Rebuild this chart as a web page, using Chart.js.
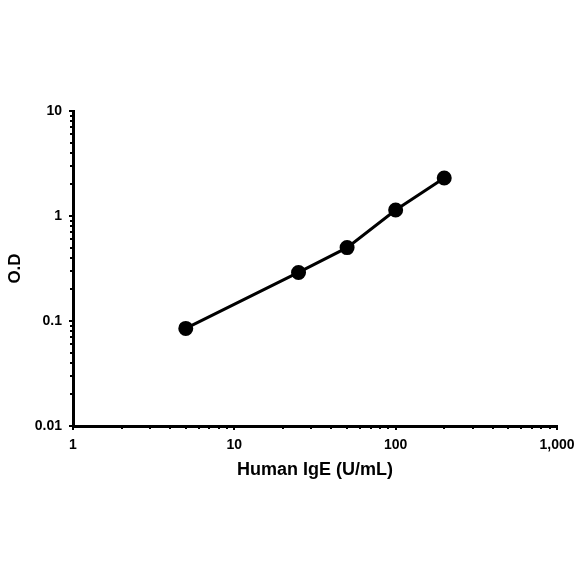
<!DOCTYPE html>
<html>
<head>
<meta charset="utf-8">
<script src="https://cdn.jsdelivr.net/npm/chart.js@4"></script>
<style>
  html, body { margin: 0; padding: 0; background: #fff; }
  #wrap { width: 584px; height: 584px; }
</style>
</head>
<body>
<div id="wrap"><canvas id="myChart" width="584" height="584"></canvas></div>
<script>
// data
var concentrations = [5, 25, 50, 100, 200];
var odValues = [0.085, 0.29, 0.5, 1.14, 2.3];
var xTicks = [1, 10, 100, 1000];
var yTicks = [0.01, 0.1, 1, 10];
var xTitle = 'Human IgE (U/mL)';
var yTitle = 'O.D';

var points = concentrations.map(function (c, i) { return { x: c, y: odValues[i] }; });

function minorValues(min, max) {
  var out = [];
  for (var d = min; d < max; d *= 10) {
    for (var k = 2; k <= 9; k++) out.push(d * k);
  }
  return out;
}

// small tick marks outside the axis lines
var tickMarks = {
  id: 'tickMarks',
  afterDraw: function (chart) {
    var c = chart.ctx, xs = chart.scales.x, ys = chart.scales.y;
    var a = chart.chartArea;
    c.save();
    c.strokeStyle = '#000';
    c.lineWidth = 2;
    xTicks.forEach(function (v) {
      var px = Math.round(xs.getPixelForValue(v));
      c.beginPath(); c.moveTo(px, a.bottom); c.lineTo(px, a.bottom + 4); c.stroke();
    });
    minorValues(1, 1000).forEach(function (v) {
      var px = Math.round(xs.getPixelForValue(v));
      c.beginPath(); c.moveTo(px, a.bottom); c.lineTo(px, a.bottom + 3); c.stroke();
    });
    yTicks.forEach(function (v) {
      var py = Math.round(ys.getPixelForValue(v));
      c.beginPath(); c.moveTo(a.left, py); c.lineTo(a.left - 4, py); c.stroke();
    });
    minorValues(0.01, 10).forEach(function (v) {
      var py = Math.round(ys.getPixelForValue(v));
      c.beginPath(); c.moveTo(a.left, py); c.lineTo(a.left - 3, py); c.stroke();
    });
    c.restore();
  }
};

var ctx = document.getElementById('myChart').getContext('2d');
var chart = new Chart(ctx, {
  type: 'scatter',
  data: {
    datasets: [{
      data: points,
      showLine: true,
      borderColor: '#000',
      backgroundColor: '#000',
      borderWidth: 3,
      pointRadius: 6,
      pointHoverRadius: 6,
      tension: 0
    }]
  },
  options: {
    responsive: false,
    animation: false,
    events: [],
    layout: { padding: { left: 0, top: 111, right: 27, bottom: 88 } },
    plugins: { legend: { display: false }, tooltip: { enabled: false } },
    scales: {
      x: {
        type: 'logarithmic',
        min: 1,
        max: 1000,
        afterBuildTicks: function (s) { s.ticks = xTicks.map(function (v) { return { value: v }; }); },
        afterFit: function (s) { s.height = 70; s.paddingLeft = 0; s.paddingRight = 0; },
        ticks: {
          color: '#000',
          padding: 11,
          maxRotation: 0,
          font: { family: 'Liberation Sans, Arial', size: 14, weight: 'bold' },
          callback: function (v) { return v.toLocaleString('en-US'); }
        },
        grid: { display: false, drawTicks: false },
        border: { display: true, color: '#000', width: 3 },
        title: {
          display: true,
          text: xTitle,
          color: '#000',
          padding: { top: 0, bottom: 15 },
          font: { family: 'Liberation Sans, Arial', size: 18, weight: 'bold' }
        }
      },
      y: {
        type: 'logarithmic',
        min: 0.01,
        max: 10,
        afterBuildTicks: function (s) { s.ticks = yTicks.map(function (v) { return { value: v }; }); },
        afterFit: function (s) { s.width = 73; s.paddingTop = 0; s.paddingBottom = 0; },
        ticks: {
          color: '#000',
          padding: 11,
          font: { family: 'Liberation Sans, Arial', size: 14, weight: 'bold' },
          callback: function (v) { return String(v); }
        },
        grid: { display: false, drawTicks: false },
        border: { display: true, color: '#000', width: 3 },
        title: {
          display: true,
          text: yTitle,
          color: '#000',
          padding: { top: 5, bottom: 0 },
          font: { family: 'Liberation Sans, Arial', size: 17, weight: 'bold' }
        }
      }
    }
  },
  plugins: [tickMarks]
});
</script>
</body>
</html>
